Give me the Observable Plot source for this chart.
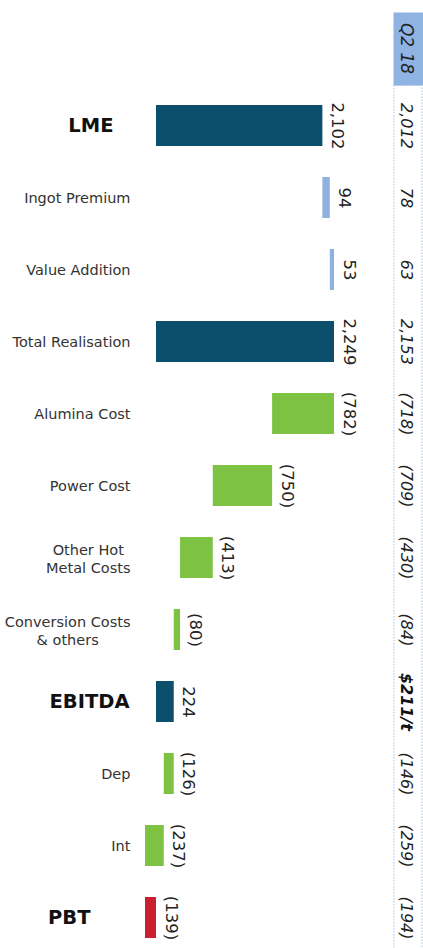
<!DOCTYPE html>
<html>
<head>
<meta charset="utf-8">
<script src="https://cdn.jsdelivr.net/npm/d3@7"></script>
<script src="https://cdn.jsdelivr.net/npm/@observablehq/plot@0.6"></script>
<style>
  html, body { margin: 0; padding: 0; background: #fff; }
  #chart { width: 423px; height: 948px; }
</style>
</head>
<body>
<div id="chart"></div>
<script>
// ---- data ----
const categories = ["LME", "Ingot Premium", "Value Addition", "Total Realisation", "Alumina Cost", "Power Cost", "Other Hot\nMetal Costs", "Conversion Costs\n& others", "EBITDA", "Dep", "Int", "PBT"];
const values = [2102, 94, 53, 2249, -782, -750, -413, -80, 224, -126, -237, -139];
const kinds = ["total", "premium", "premium", "total", "cost", "cost", "cost", "cost", "total", "cost", "cost", "loss"];
const q2Header = "Q2 18";
const q2Values = ["2,012", "78", "63", "2,153", "(718)", "(709)", "(430)", "(84)", "$211/t", "(146)", "(259)", "(194)"];
const boldLabels = ["LME", "EBITDA", "PBT"];
const q2Bold = ["$211/t"];

// ---- build waterfall rows ----
const fmt = d3.format(",");
let cum = 0;
const rows = categories.map((cat, i) => {
  const v = values[i];
  let start, end;
  if (kinds[i] === "total" || kinds[i] === "loss") { start = 0; end = v; }
  else { start = cum; end = cum + v; }
  cum = end;
  return {
    cat, kind: kinds[i], start, end,
    right: Math.max(start, end),
    label: v < 0 ? `(${fmt(-v)})` : fmt(v),
    q2: q2Values[i]
  };
});

const FONT = "DejaVu Sans, Verdana, sans-serif";
const ctx = document.createElement("canvas").getContext("2d");
function textWidth(s, size, weight = "normal") {
  ctx.font = `${weight} ${size}px ${FONT}`;
  return ctx.measureText(s).width;
}

const labelSize = 14.5;
const labelRight = 130;
const boldRight = {LME: 113, EBITDA: 129, PBT: 90};

const marks = [];

// Q2 header box and column border
marks.push(Plot.frame({fill: "#8fb3e3", insetLeft: 393, insetRight: 0, insetTop: 12, insetBottom: 948 - 85}));
marks.push(Plot.frame({stroke: "#a8c3e6", strokeDasharray: "1.5,1.5", insetLeft: 393.5, insetRight: 1.5, insetTop: 85, insetBottom: -2}));

// bars
marks.push(Plot.barX(rows, {x1: "start", x2: "end", y: "cat", fill: "kind"}));

// value labels on bars
marks.push(Plot.text(rows, {
  x: "right", y: "cat", text: "label", rotate: 90,
  textAnchor: "middle", lineAnchor: "bottom", dx: 9,
  fontSize: 16.5, fill: "#222"
}));

// left category labels
const plain = rows.filter(d => !boldLabels.includes(d.cat) && !d.cat.includes("\n"));
marks.push(Plot.text(plain, {
  y: "cat", text: "cat", frameAnchor: "left", dx: labelRight,
  textAnchor: "end", fontSize: labelSize, fill: "#333"
}));
rows.filter(d => d.cat.includes("\n")).forEach(d => {
  const w = Math.max(...d.cat.split("\n").map(s => textWidth(s, labelSize)));
  marks.push(Plot.text([d], {
    y: "cat", text: "cat", frameAnchor: "left", dx: labelRight - w / 2,
    textAnchor: "middle", lineHeight: 1.3, fontSize: labelSize, fill: "#333"
  }));
});
rows.filter(d => boldLabels.includes(d.cat)).forEach(d => {
  marks.push(Plot.text([d], {
    y: "cat", text: "cat", frameAnchor: "left", dx: boldRight[d.cat],
    textAnchor: "end", fontSize: 19.5, fontWeight: "bold", fill: "#111"
  }));
});

// Q2 18 column
marks.push(Plot.text([q2Header], {
  text: d => d, frameAnchor: "top-right", dx: -17, dy: 48, rotate: 90,
  textAnchor: "middle", lineAnchor: "middle", fontSize: 17, fontStyle: "italic", fill: "#222"
}));
marks.push(Plot.text(rows.filter(d => !q2Bold.includes(d.q2)), {
  y: "cat", text: "q2", frameAnchor: "right", dx: -17, rotate: 90,
  textAnchor: "middle", lineAnchor: "middle", fontSize: 16, fontStyle: "italic", fill: "#222"
}));
marks.push(Plot.text(rows.filter(d => q2Bold.includes(d.q2)), {
  y: "cat", text: "q2", frameAnchor: "right", dx: -17, rotate: 90,
  textAnchor: "middle", lineAnchor: "middle", fontSize: 16, fontStyle: "italic", fontWeight: "bold", fill: "#111"
}));

const chart = Plot.plot({
  width: 423,
  height: 948,
  margin: 0,
  style: {fontFamily: FONT, background: "#fff"},
  x: {domain: [0, 2249], range: [156, 334], axis: null},
  y: {type: "band", domain: categories, range: [102, 941], paddingInner: 0.434, paddingOuter: 0, axis: null},
  color: {domain: ["total", "premium", "cost", "loss"], range: ["#0b4f6c", "#8eb1e1", "#7dc243", "#c8202f"]},
  marks
});
document.getElementById("chart").appendChild(chart);
</script>
</body>
</html>
